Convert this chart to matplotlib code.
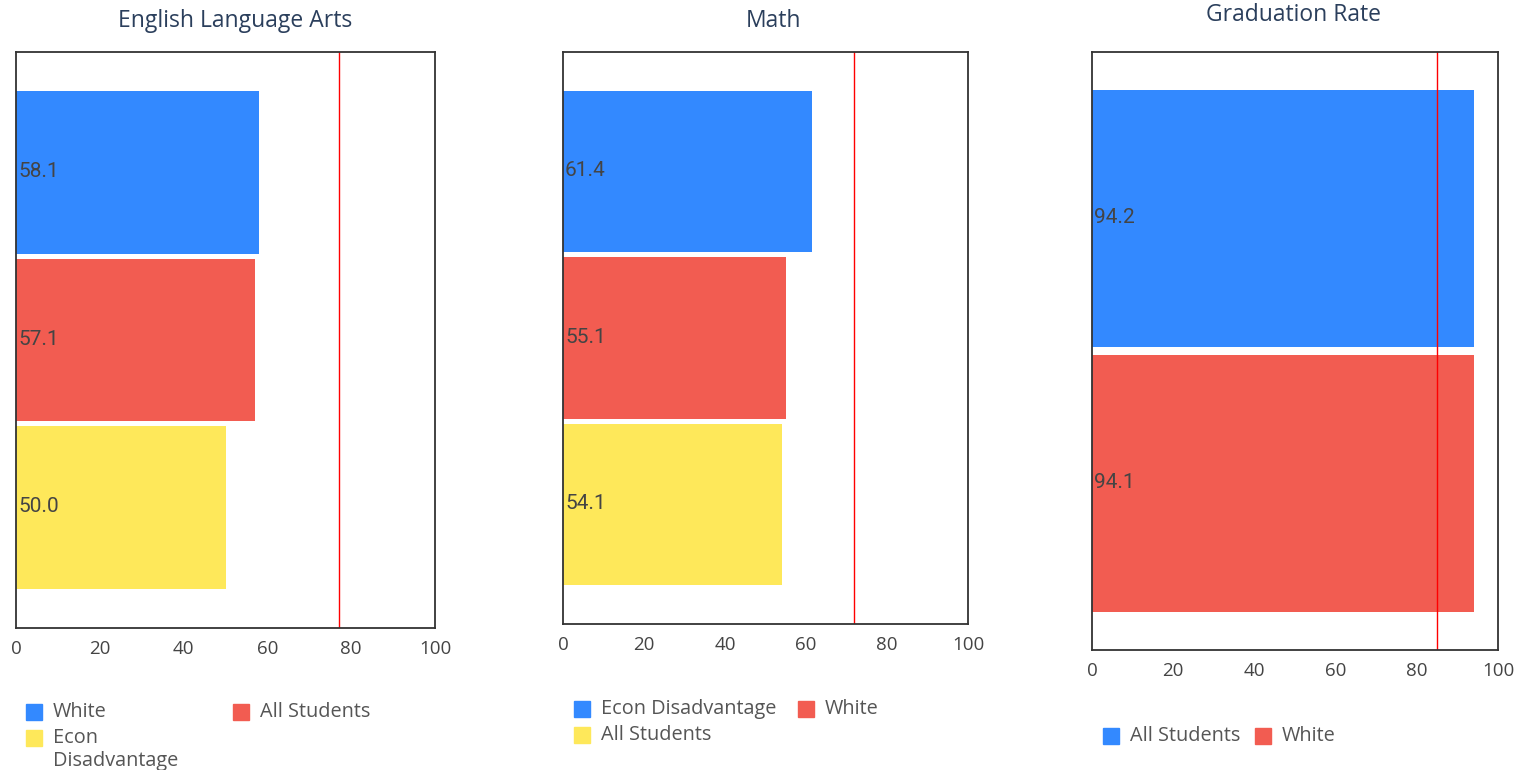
import matplotlib
matplotlib.use("Agg")
from matplotlib import pyplot as plt
from matplotlib.patches import Rectangle

# data
ela_groups = ["White", "All Students", "Econ\nDisadvantage"]
ela_values = [58.1, 57.1, 50.0]
ela_target = 77.2

math_groups = ["Econ Disadvantage", "White", "All Students"]
math_values = [61.4, 55.1, 54.1]
math_target = 71.9

grad_groups = ["All Students", "White"]
grad_values = [94.2, 94.1]
grad_target = 85.0

bar_colors = ["#3389FF", "#F25C51", "#FEE85A"]

W, H = 1528, 770
fig = plt.figure(figsize=(W / 100, H / 100), dpi=100)

TITLE_FONT = "Open Sans"
TICK_FONT = "Open Sans"
LABEL_FONT = "Roboto"


def px_axes(l, t, r, b):
    return fig.add_axes([l / W, 1 - b / H, (r - l) / W, (b - t) / H])


def draw_panel(ax, values, target, pad):
    n = len(values)
    y = list(range(n))
    ax.barh(y, values, height=0.97, color=bar_colors[:n])
    ax.set_xlim(0, 100)
    ax.set_ylim(n - 1 + pad, -pad)
    ax.axvline(target, color="#FF0000", lw=1.0)
    for yi, v in zip(y, values):
        ax.annotate(f"{v:.1f}", (0, yi), xytext=(2, 1), textcoords="offset pixels",
                    va="center", ha="left", fontsize=15, color="#444444",
                    family=LABEL_FONT)
    ax.set_yticks([])
    ax.set_xticks([0, 20, 40, 60, 80, 100])
    ax.tick_params(axis="x", length=0, pad=9, labelsize=13.5, labelcolor="#444444")
    for lab in ax.get_xticklabels():
        lab.set_family(TICK_FONT)
    for s in ax.spines.values():
        s.set_color("#333333")
        s.set_linewidth(1.3)


def legend_item(x, yc, color, label):
    fig.patches.append(Rectangle((x / W, 1 - (yc + 8) / H), 16 / W, 16 / H,
                                 transform=fig.transFigure, color=color))
    fig.text((x + 27) / W, 1 - (yc - 10) / H, label, ha="left", va="top",
             fontsize=14.3, color="#555555", family=TICK_FONT, linespacing=1.2)


# English Language Arts
ax1 = px_axes(16, 52, 435, 628)
draw_panel(ax1, ela_values, ela_target, 0.72)
fig.text(235 / W, 1 - 21 / H, "English Language Arts", ha="center", va="center",
         fontsize=16.5, color="#2B3F5C", family=TITLE_FONT)
legend_item(26, 712, bar_colors[0], ela_groups[0])
legend_item(233, 712, bar_colors[1], ela_groups[1])
legend_item(26, 738, bar_colors[2], ela_groups[2])

# Math
ax2 = px_axes(563, 52, 968, 624)
draw_panel(ax2, math_values, math_target, 0.72)
fig.text(773 / W, 1 - 21 / H, "Math", ha="center", va="center",
         fontsize=16.5, color="#2B3F5C", family=TITLE_FONT)
legend_item(574, 709, bar_colors[0], math_groups[0])
legend_item(798, 709, bar_colors[1], math_groups[1])
legend_item(574, 735, bar_colors[2], math_groups[2])

# Graduation Rate
ax3 = px_axes(1092, 52, 1498, 650)
draw_panel(ax3, grad_values, grad_target, 0.63)
fig.text(1293 / W, 1 - 15 / H, "Graduation Rate", ha="center", va="center",
         fontsize=16.5, color="#2B3F5C", family=TITLE_FONT)
legend_item(1103, 736, bar_colors[0], grad_groups[0])
legend_item(1255, 736, bar_colors[1], grad_groups[1])

fig.savefig("out.png", dpi=100)
